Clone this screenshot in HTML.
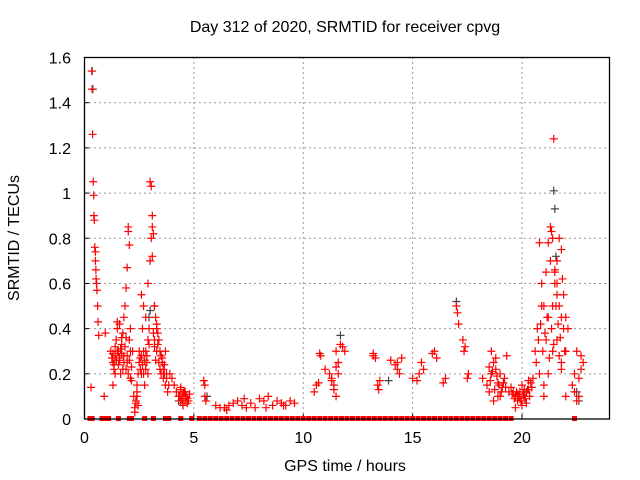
<!DOCTYPE html>
<html><head><meta charset="utf-8"><style>
body{margin:0;background:#fff}
svg{display:block;font-family:"Liberation Sans",sans-serif}
</style></head><body>
<svg id="c" width="640" height="480">
<text x="345" y="32" font-size="16" text-anchor="middle">Day 312 of 2020, SRMTID for receiver cpvg</text>
<text x="345" y="471" font-size="16" text-anchor="middle">GPS time / hours</text>
<text transform="translate(19,238) rotate(-90)" font-size="16" text-anchor="middle">SRMTID / TECUs</text>
<g id="grid"></g><g id="marks"></g>
<rect x="84.5" y="57.5" width="525" height="361.5" fill="none" stroke="#000" stroke-width="1.3"/>
</svg>
<script>
const xTicks=[0,5,10,15,20];
const yTicks=[0,0.2,0.4,0.6,0.8,1,1.2,1.4,1.6];
const yTickLabels=["0","0.2","0.4","0.6","0.8","1","1.2","1.4","1.6"];
const darkTimes=[0.35,0.38,2.95,3.0,3.2,4.3,4.5,5.6,11.7,13.9,17.0,21.45,21.5,21.55,22.5,22.6,18.6,20.1];
const darkValues=[1.54,1.46,0.45,0.48,0.5,0.08,0.06,0.1,0.37,0.17,0.52,1.01,0.93,0.72,0.12,0.08,0.2,0.1];
const times=[0.33,0.35,0.37,0.4,0.42,0.43,0.45,0.47,0.5,0.5,0.52,0.53,0.55,0.57,0.6,0.62,0.65,0.3,0.95,0.9,
1.2,1.3,1.35,1.4,1.45,1.5,1.5,1.55,1.6,1.65,1.7,1.75,1.8,1.85,1.9,1.95,2.0,2.0,2.05,2.1,1.95,2.0,2.05,1.9,2.15,2.1,2.2,1.3,1.4,1.6,1.7,1.8,
1.25,1.3,1.35,1.4,1.45,1.5,1.55,1.6,1.65,1.7,1.75,1.8,1.85,1.9,1.95,2.05,2.1,2.15,
2.25,2.3,2.35,2.4,2.45,2.5,2.3,2.4,2.5,2.55,2.6,2.65,2.7,2.75,2.8,2.85,2.9,2.6,2.7,2.8,2.9,2.95,
2.35,2.4,2.45,2.55,2.6,2.65,2.7,2.75,2.8,2.85,2.9,2.95,
3.0,3.05,3.1,3.1,3.15,3.05,3.1,3.0,3.2,3.25,3.3,3.35,3.4,3.45,3.5,3.55,3.6,3.65,3.7,3.75,3.8,3.3,3.4,3.5,3.6,3.7,3.2,3.3,
3.25,3.35,3.45,3.55,3.65,3.75,3.85,3.15,3.2,
3.9,4.0,4.1,4.2,4.3,4.4,4.5,4.6,4.7,4.8,4.4,4.5,4.6,4.7,4.4,4.5,4.35,4.45,4.55,4.65,4.75,4.5,4.6,
5.45,5.5,5.5,5.55,6.0,6.2,6.4,6.6,6.8,7.0,7.2,7.4,7.6,7.8,8.0,8.2,8.4,8.6,8.8,9.0,9.2,9.4,9.6,6.5,7.3,8.3,9.1,
10.5,10.6,10.7,10.8,10.75,11.0,11.2,11.3,11.4,11.5,11.6,11.5,11.4,11.7,11.8,11.9,11.6,11.3,11.5,
13.2,13.3,13.2,13.4,13.5,13.45,14.0,14.2,14.3,14.4,14.5,14.3,15.0,15.2,15.3,15.5,15.4,15.9,16.0,16.1,16.4,16.5,
17.0,17.05,17.1,17.3,17.35,17.4,17.5,17.55,18.2,18.4,18.5,18.6,18.7,18.8,18.9,19.0,19.1,19.2,19.3,19.4,18.6,18.8,19.0,18.9,18.7,18.5,
18.55,18.65,18.75,18.85,18.95,19.05,19.15,19.25,
19.5,19.6,19.7,19.8,19.9,20.0,20.1,20.2,20.3,20.4,20.5,19.7,19.9,20.1,20.3,19.8,20.0,20.2,
19.55,19.65,19.75,19.85,19.95,20.05,20.15,20.25,20.35,20.45,
20.6,20.7,20.8,20.9,21.0,21.1,21.2,21.3,21.4,21.5,21.6,21.7,21.8,21.9,22.0,22.1,20.8,21.0,21.2,21.4,21.6,21.8,22.0,21.1,21.3,21.5,21.7,21.9,21.45,21.35,21.5,21.6,21.7,21.8,20.9,21.0,21.2,21.4,21.6,21.8,22.0,
20.65,20.75,20.85,20.95,21.05,21.15,21.25,21.35,21.45,21.55,21.65,21.75,21.85,21.95,
22.3,22.4,22.5,22.6,22.7,22.8,22.5,22.6,22.7,22.4];
const values=[1.54,1.46,1.26,1.05,0.99,0.9,0.88,0.76,0.74,0.7,0.66,0.62,0.6,0.57,0.5,0.43,0.37,0.14,0.38,0.1,
0.3,0.25,0.22,0.28,0.35,0.4,0.43,0.3,0.26,0.2,0.33,0.38,0.45,0.5,0.58,0.67,0.85,0.83,0.77,0.3,0.25,0.2,0.35,0.22,0.17,0.4,0.3,0.15,0.2,0.42,0.36,0.28,
0.27,0.29,0.24,0.32,0.26,0.3,0.24,0.27,0.31,0.29,0.22,0.25,0.32,0.36,0.28,0.26,0.18,0.23,
0.1,0.05,0.08,0.12,0.2,0.25,0.03,0.15,0.3,0.22,0.28,0.4,0.2,0.15,0.3,0.25,0.35,0.55,0.5,0.45,0.6,0.4,
0.07,0.1,0.06,0.27,0.2,0.24,0.3,0.26,0.22,0.28,0.2,0.33,
1.05,1.03,0.9,0.85,0.82,0.8,0.72,0.7,0.5,0.45,0.4,0.38,0.35,0.3,0.28,0.25,0.22,0.2,0.15,0.18,0.12,0.3,0.25,0.2,0.18,0.3,0.35,0.42,
0.26,0.33,0.22,0.27,0.24,0.2,0.15,0.38,0.32,
0.2,0.18,0.15,0.12,0.1,0.08,0.1,0.12,0.09,0.11,0.14,0.06,0.08,0.07,0.13,0.11,0.1,0.09,0.12,0.1,0.08,0.07,0.09,
0.17,0.15,0.1,0.08,0.06,0.05,0.05,0.06,0.07,0.08,0.06,0.05,0.07,0.05,0.09,0.08,0.1,0.06,0.08,0.07,0.06,0.08,0.07,0.04,0.09,0.05,0.06,
0.12,0.15,0.16,0.28,0.29,0.22,0.2,0.18,0.15,0.1,0.25,0.3,0.13,0.33,0.32,0.3,0.2,0.17,0.23,
0.28,0.27,0.29,0.15,0.17,0.13,0.26,0.24,0.22,0.2,0.27,0.25,0.18,0.17,0.2,0.22,0.25,0.29,0.3,0.27,0.16,0.18,
0.5,0.47,0.42,0.35,0.3,0.32,0.18,0.2,0.18,0.15,0.12,0.2,0.25,0.22,0.16,0.1,0.14,0.18,0.28,0.12,0.3,0.27,0.2,0.1,0.08,0.23,
0.17,0.21,0.13,0.19,0.15,0.12,0.16,0.14,
0.14,0.12,0.1,0.08,0.12,0.15,0.1,0.07,0.13,0.16,0.18,0.05,0.09,0.13,0.17,0.11,0.06,0.12,
0.11,0.09,0.12,0.1,0.08,0.11,0.09,0.13,0.1,0.14,
0.3,0.4,0.78,0.6,0.5,0.35,0.78,0.85,0.8,0.65,0.7,0.8,0.75,0.55,0.45,0.4,0.2,0.15,0.45,0.3,0.55,0.25,0.3,0.65,0.7,0.6,0.5,0.4,1.24,0.83,0.66,0.35,0.28,0.22,0.5,0.1,0.2,0.5,0.6,0.45,0.1,
0.25,0.35,0.42,0.3,0.38,0.45,0.27,0.4,0.33,0.5,0.42,0.36,0.62,0.3,
0.15,0.2,0.08,0.1,0.22,0.25,0.3,0.18,0.28,0.12];
const zeroTimes=[0.25,0.35,0.8,0.95,1.1,1.55,2.05,2.15,2.75,3.15,3.7,3.85,4.4,4.9,5.25,5.5,5.75,6.0,6.25,6.5,6.75,7.0,7.25,7.5,7.75,8.0,8.25,8.5,8.75,9.0,9.25,9.5,9.75,10.0,10.25,10.5,10.75,11.0,11.25,11.5,11.75,12.0,12.25,12.5,12.75,13.0,13.25,13.5,13.75,14.0,14.25,14.5,14.75,15.0,15.25,15.5,15.75,16.0,16.25,16.5,16.75,17.0,17.25,17.5,17.75,18.0,18.25,18.5,18.75,19.0,19.25,19.5,22.4];
const X=t=>84.5+t*(525/24), Y=v=>419-v*(361.5/1.6);
const NS="http://www.w3.org/2000/svg";
const g=document.getElementById('grid'), m=document.getElementById('marks');
function el(tag,attrs,parent){const e=document.createElementNS(NS,tag);for(const k in attrs)e.setAttribute(k,attrs[k]);parent.appendChild(e);return e;}
xTicks.forEach(t=>{const x=X(t);
 if(t>0){const l=el('line',{x1:x,x2:x,y1:57,y2:419,stroke:'#999','stroke-dasharray':'2,3'},g);
 
 }
 el('line',{x1:x,x2:x,y1:419,y2:414,stroke:'#000'},g);
 const tx=el('text',{x:x,y:443,'font-size':16,'text-anchor':'middle'},g);tx.textContent=t;
 
 });
yTicks.forEach((v,i)=>{const y=Y(v);
 if(v>0&&v<1.6){const l=el('line',{x1:84,x2:609,y1:y,y2:y,stroke:'#999','stroke-dasharray':'2,3'},g);
 
 }
 el('line',{x1:84,x2:89,y1:y,y2:y,stroke:'#000'},g);
 const tx=el('text',{x:71,y:y+6,'font-size':16,'text-anchor':'end'},g);tx.textContent=yTickLabels[i];
 
 });
function cross(t,v,col,name){const x=X(t),y=Y(v);
 const p=el('path',{d:`M${x-4},${y}h8M${x},${y-4}v8`,stroke:col,'stroke-width':1.2,fill:'none'},m);
 
 }
darkTimes.forEach((t,i)=>cross(t,darkValues[i],'#444','dark-point'));
times.forEach((t,i)=>cross(t,values[i],'#f00','srmtid-point'));
zeroTimes.forEach(t=>{const r=el('rect',{x:X(t)-2.5,y:416,width:5,height:5,fill:'#f00'},m);
 
 });
</script>
</body></html>
